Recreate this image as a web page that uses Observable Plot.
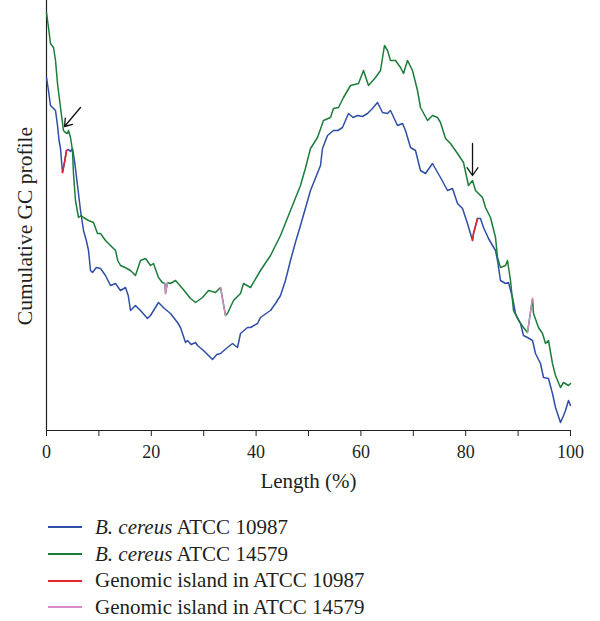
<!DOCTYPE html>
<html>
<head>
<meta charset="utf-8">
<script src="https://cdn.jsdelivr.net/npm/d3@7"></script>
<script src="https://cdn.jsdelivr.net/npm/@observablehq/plot@0.6"></script>
<style>
  body { margin: 0; background: #fff; font-family: "Liberation Serif", serif; color: #231f20; }
  #legend { padding-top: 9px; padding-left: 48px; }
  .row { height: 26.7px; display: flex; align-items: center; font-size: 21px; }
  .row svg { margin-right: 13px; }
</style>
</head>
<body>
<div id="chart"></div>
<div id="legend"></div>
<script>
// Cumulative GC profile (length in %, profile in arbitrary units)
const blueX = [0,0.38,0.76,1.34,1.72,2.10,2.4,2.67,3.05,3.43,3.82,4.2,4.58,4.96,5.34,5.92,6.49,7.06,7.6,8.02,8.40,8.78,9.5,10.31,11.26,12.21,13.17,14.12,15.08,15.6,16.03,16.98,17.94,19.27,19.85,21.37,22.5,23.66,25.0,25.57,26.53,26.91,27.6,28.44,28.82,29.96,31.30,31.68,32.5,33.21,34.3,35.50,36.45,37.02,38.36,38.93,40.27,40.84,42.18,42.75,43.7,44.66,45.6,46.56,47.5,48.47,49.4,50.38,51.3,52.29,52.67,53.63,54.77,55.6,56.49,57.63,58.5,59.35,60.3,61.26,62.2,63.17,64.12,65.08,65.65,66.98,67.94,68.51,69.47,70.42,71.37,72.33,73.66,75.19,76.53,77.48,78.44,79.39,80.34,81.30,81.49,81.9,82.25,82.82,83.40,84.35,85.69,86.07,86.64,87.60,88.17,88.93,89.50,90.46,91.03,91.79,92.75,93.32,94.27,94.85,95.80,96.56,97.14,98.09,98.6,99.05,99.62,100];
const blueY = [353,340,325,322,320,305,290,282,258,268,280,281,279,282,270,245,220,200,190,180,160,158,163,162,155,145,147,140,143,135,120,125,120,112,115,128,122,117,108,103,88,90,86,88,85,80,73,71,76,77,82,87,83,97,103,103,107,113,118,120,127,135,150,170,188,205,222,240,252,265,282,295,300,300,303,317,313,315,314,317,322,328,318,317,320,305,307,300,283,280,260,257,267,253,240,242,227,222,207,190,197,205,212,212,203,192,180,170,150,147,148,133,117,107,95,93,90,77,67,53,52,37,23,8,14,20,30,25];

const greenX = [0,0.38,0.76,1.34,1.72,2.10,2.67,3.24,3.6,4.01,4.2,4.58,4.96,5.15,5.53,6.11,6.6,7.06,8.02,8.97,9.73,10.31,11.26,12.21,13.17,13.6,14.12,15.0,16.03,16.98,17.94,18.89,19.85,20.42,21.37,22.1,22.6,22.71,23.09,23.66,24.62,25.95,27.48,28.44,29.77,30.92,32.25,33.21,34.16,34.54,35.69,37.02,37.60,38.93,40.84,42.75,44.66,46.56,48.47,49.4,50.38,51.72,52.86,54.20,54.77,55.73,56.68,58.02,59.54,60.50,61.45,62.79,63.74,64.50,65.08,65.65,66.60,67.56,68.13,68.89,69.85,70.80,71.37,72.71,73.66,74.62,75.19,76.15,77.10,78.44,79.58,80.53,81.30,81.87,83.21,83.78,84.73,85.69,86.07,86.64,87.60,87.98,88.55,89.12,90.08,91.03,91.79,92.75,92.94,93.89,94.66,95.23,95.80,96.56,97.14,98.09,98.66,99.62,100];
const greenY = [418,403,387,383,370,347,323,300,298,297,300,293,280,257,230,213,215,213,210,208,197,197,190,185,180,170,165,163,160,155,170,172,165,167,153,148,147,137,148,147,150,142,132,128,133,140,138,143,115,117,130,137,147,143,160,175,195,220,245,262,282,293,310,313,322,323,333,345,347,360,345,353,360,385,380,370,370,363,357,370,360,340,323,310,315,313,308,292,287,277,268,245,250,240,233,223,213,193,173,163,165,170,150,120,110,103,98,132,117,103,97,87,90,67,55,43,48,45,47];

// genomic islands (segments of each curve)
const redSeg = ["a","a","a","b","b","b","b"];
const redX = [3.05,3.43,3.82,81.30,81.49,81.9,82.25];
const redY = [258,268,280,190,197,205,212];
const pinkSeg = ["a","a","a","b","b","c","c"];
const pinkX = [22.6,22.71,23.09,33.21,34.16,91.79,92.75];
const pinkY = [147,137,148,143,115,98,132];

// arrows pointing at islands
const arrowX1 = [6.49, 81.3];
const arrowY1 = [323, 287];
const arrowX2 = [3.44, 81.3];
const arrowY2 = [304, 255];

const xTicks = [0,10,20,30,40,50,60,70,80,90,100];
const xLabel = "Length (%)";
const yLabel = "Cumulative GC profile";

const legendItems = [
  {html: "<i>B. cereus</i> ATCC 10987", color: "#2f4ea6"},
  {html: "<i>B. cereus</i> ATCC 14579", color: "#1c7d3b"},
  {html: "Genomic island in ATCC 10987", color: "#e3262c"},
  {html: "Genomic island in ATCC 14579", color: "#d98bc9"}
];

const toRows = (xs, ys, zs) => xs.map((x, i) => ({x, y: ys[i], z: zs ? zs[i] : null}));
const blue = toRows(blueX, blueY);
const green = toRows(greenX, greenY);
const red = toRows(redX, redY, redSeg);
const pink = toRows(pinkX, pinkY, pinkSeg);
const arrows = arrowX1.map((x1, i) => ({x1, y1: arrowY1[i], x2: arrowX2[i], y2: arrowY2[i]}));

const plot = Plot.plot({
  width: 600,
  height: 505,
  marginLeft: 46,
  marginRight: 30,
  marginTop: 5,
  marginBottom: 75,
  style: {fontFamily: "Liberation Serif, serif", color: "#231f20", background: "#fff"},
  x: {domain: [0, 100]},
  y: {domain: [0, 425], axis: null},
  marks: [
    Plot.axisX({ticks: xTicks, tickSize: 6, tickPadding: 9, tickFormat: d => d % 20 === 0 ? d : "", fontSize: 18, label: null, stroke: "#231f20"}),
    Plot.ruleY([0], {stroke: "#231f20", strokeWidth: 1.2}),
    Plot.ruleX([0], {y1: 0, y2: 430, stroke: "#231f20", strokeWidth: 1.2}),
    Plot.text([xLabel], {frameAnchor: "bottom", dy: 57, fontSize: 21, fill: "#231f20"}),
    Plot.text([yLabel], {frameAnchor: "left", textAnchor: "middle", rotate: -90, dx: -21, dy: 8, fontSize: 21.5, fill: "#231f20"}),
    Plot.line(blue, {x: "x", y: "y", stroke: legendItems[0].color, strokeWidth: 1.5}),
    Plot.line(green, {x: "x", y: "y", stroke: legendItems[1].color, strokeWidth: 1.5}),
    Plot.line(red, {x: "x", y: "y", z: "z", stroke: legendItems[2].color, strokeWidth: 1.6}),
    Plot.line(pink, {x: "x", y: "y", z: "z", stroke: legendItems[3].color, strokeWidth: 1.4}),
    Plot.arrow(arrows, {x1: "x1", y1: "y1", x2: "x2", y2: "y2", stroke: "#111", strokeWidth: 1.3, headLength: 11, headAngle: 70})
  ]
});
document.getElementById("chart").appendChild(plot);

const legend = document.getElementById("legend");
for (const item of legendItems) {
  const row = document.createElement("div");
  row.className = "row";
  row.innerHTML = `<svg width="34" height="4"><line x1="0" x2="34" y1="2" y2="2" stroke="${item.color}" stroke-width="2"/></svg><span>${item.html}</span>`;
  legend.appendChild(row);
}
</script>
</body>
</html>
